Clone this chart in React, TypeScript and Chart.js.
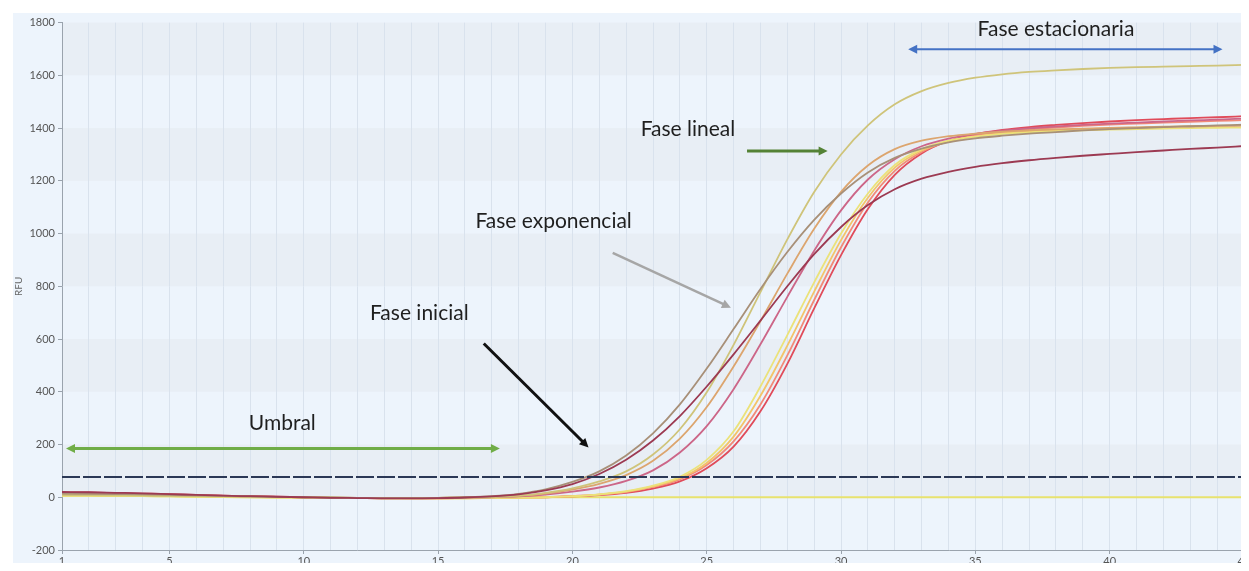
import React, { useEffect, useRef } from "react";
import { Chart, registerables } from "chart.js";
Chart.register(...registerables);

const cycles = [1,2,3,4,5,6,7,8,9,10,11,12,13,14,15,16,17,18,19,20,21,22,23,24,25,26,27,28,29,30,31,32,33,34,35,36,37,38,39,40,41,42,43,44,45];
const xTickLabels = [1, 5, 10, 15, 20, 25, 30, 35, 40, 45];
const yTicks = [-200, 0, 200, 400, 600, 800, 1000, 1200, 1400, 1600, 1800];

const maroon = [20,19,17,15,12,9,6,4,2,0, -2,-3,-4,-4,-3,-1,3,11,26,50, 88,142,215,308,420,542,670,800,922,1025, 1108,1168,1208,1234,1253,1267,1278,1287,1295,1302, 1309,1315,1321,1326,1332];
const tan = [14,13,12,11,9,7,5,3,1,0, -1,-2,-3,-3,-2,0,4,13,30,58, 98,158,242,352,488,638,790,930,1052,1152, 1232,1287,1322,1346,1361,1371,1379,1385,1391,1396, 1400,1404,1407,1410,1413];
const khaki = [8,8,7,6,5,4,3,2,1,0, -1,-2,-2,-2,-2,-1,1,6,17,34, 60,98,162,258,398,578,778,978,1158,1300, 1410,1490,1540,1571,1591,1604,1613,1619,1624,1628, 1631,1633,1635,1637,1640];
const orangeTan = [10,10,9,8,7,5,4,2,1,0, -1,-2,-3,-3,-2,-1,1,5,14,29, 51,84,138,222,342,496,668,848,1018,1158, 1258,1320,1352,1369,1379,1386,1391,1395,1398,1401, 1403,1405,1406,1408,1409];
const pink = [16,15,14,12,10,8,5,3,1,0, -2,-3,-3,-3,-3,-2,0,3,10,21, 37,62,102,170,270,410,580,760,935,1088, 1205,1282,1331,1360,1378,1390,1399,1406,1412,1417, 1421,1425,1429,1432,1436];
const lightYellow = [6,6,5,4,3,2,1,0,-1,-2, -3,-3,-4,-4,-4,-4,-3,-2,0,4, 11,23,44,78,142,250,420,615,815,1000, 1152,1260,1320,1352,1368,1378,1384,1388,1391,1394, 1396,1398,1400,1401,1402];
const gold = [7,7,6,5,4,3,2,1,0,-1, -2,-3,-4,-4,-4,-4,-3,-2,0,3, 10,21,41,72,130,230,385,575,780,975, 1136,1250,1315,1350,1368,1380,1387,1392,1396,1399, 1402,1404,1406,1408,1410];
const salmon = [15,14,13,11,9,7,5,3,1,0, -2,-3,-3,-4,-4,-3,-2,-1,1,5, 10,20,39,68,122,212,352,538,748,948, 1118,1238,1309,1350,1372,1386,1395,1402,1408,1413, 1417,1421,1424,1427,1430];
const red = [19,18,16,14,12,9,6,4,2,0, -2,-3,-4,-4,-4,-3,-2,-1,0,3, 8,17,33,60,110,192,326,506,716,918, 1093,1223,1304,1351,1377,1393,1404,1412,1419,1425, 1430,1434,1438,1441,1445];
const flatYellow = [5,5,4,4,3,2,1,0,-1,-1, -2,-2,-2,-2,-2,-2,-1,-1,0,0, 0,0,0,0,0,0,0,0,0,0, 0,0,0,0,0,0,0,0,0,0, 0,0,0,0,0];
const threshold = 77;

const seriesList = [
  { name: "A1", values: maroon, color: "#9c3a52" },
  { name: "A2", values: tan, color: "#a89078" },
  { name: "A3", values: khaki, color: "#cfc47a" },
  { name: "A4", values: orangeTan, color: "#dca56e" },
  { name: "A5", values: pink, color: "#cc6688" },
  { name: "A6", values: lightYellow, color: "#ebe27a" },
  { name: "A7", values: gold, color: "#f3c46a" },
  { name: "A8", values: salmon, color: "#f28a78" },
  { name: "A9", values: red, color: "#e04b5a" },
  { name: "NTC", values: flatYellow, color: "#e8e26e" },
];

// alternating darker horizontal bands (value ranges)
const darkBands = [[0, 200], [400, 600], [800, 1000], [1200, 1400], [1600, 1800]];

// annotations in data coordinates (cycle, RFU)
const textNotes = [
  { text: "Fase estacionaria", x: 38.0, y: 1774 },
  { text: "Fase lineal", x: 24.3, y: 1396 },
  { text: "Fase exponencial", x: 19.3, y: 1048 },
  { text: "Fase inicial", x: 14.3, y: 696 },
  { text: "Umbral", x: 9.2, y: 280 },
];
const arrowNotes = [
  { x1: 32.5, y1: 1699, x2: 44.2, y2: 1699, color: "#4472c4", w: 2, start: true, end: true },
  { x1: 26.5, y1: 1313, x2: 29.5, y2: 1313, color: "#548235", w: 3, start: false, end: true },
  { x1: 21.5, y1: 927, x2: 25.9, y2: 719, color: "#a6a6a6", w: 2.5, start: false, end: true },
  { x1: 16.7, y1: 583, x2: 20.6, y2: 189, color: "#111111", w: 3, start: false, end: true },
  { x1: 1.15, y1: 185, x2: 17.3, y2: 185, color: "#70ad47", w: 3, start: true, end: true },
];

function head(ctx: CanvasRenderingContext2D, x: number, y: number, ang: number, color: string) {
  const hl = 9, hw = 4.5;
  ctx.save();
  ctx.fillStyle = color;
  ctx.translate(x, y);
  ctx.rotate(ang);
  ctx.beginPath();
  ctx.moveTo(0, 0);
  ctx.lineTo(-hl, -hw);
  ctx.lineTo(-hl, hw);
  ctx.closePath();
  ctx.fill();
  ctx.restore();
}

const bandPlugin = {
  id: "bands",
  beforeDraw(chart: any) {
    const { ctx, chartArea, scales } = chart;
    const ys = scales.y;
    ctx.save();
    ctx.fillStyle = "#e8eef5";
    for (const [a, b] of darkBands) {
      const top = ys.getPixelForValue(b);
      const bot = ys.getPixelForValue(a);
      ctx.fillRect(chartArea.left, top, chartArea.right - chartArea.left, bot - top);
    }
    ctx.restore();
  },
};

const notePlugin = {
  id: "notes",
  afterDraw(chart: any) {
    const { ctx, scales } = chart;
    const xs = scales.x, ys = scales.y;
    ctx.save();
    for (const a of arrowNotes) {
      const x1 = xs.getPixelForValue(a.x1), y1 = ys.getPixelForValue(a.y1);
      const x2 = xs.getPixelForValue(a.x2), y2 = ys.getPixelForValue(a.y2);
      const ang = Math.atan2(y2 - y1, x2 - x1);
      const dx = Math.cos(ang) * 7, dy = Math.sin(ang) * 7;
      ctx.strokeStyle = a.color;
      ctx.lineWidth = a.w;
      ctx.beginPath();
      ctx.moveTo(a.start ? x1 + dx : x1, a.start ? y1 + dy : y1);
      ctx.lineTo(a.end ? x2 - dx : x2, a.end ? y2 - dy : y2);
      ctx.stroke();
      if (a.end) head(ctx, x2, y2, ang, a.color);
      if (a.start) head(ctx, x1, y1, ang + Math.PI, a.color);
    }
    ctx.fillStyle = "#1f1f1f";
    ctx.font = "21px Lato, 'Open Sans', sans-serif";
    ctx.textAlign = "center";
    ctx.textBaseline = "middle";
    for (const t of textNotes) {
      ctx.fillText(t.text, xs.getPixelForValue(t.x), ys.getPixelForValue(t.y));
    }
    ctx.restore();
  },
};

export default function App() {
  const ref = useRef<HTMLCanvasElement>(null);
  useEffect(() => {
    if (!ref.current) return;
    const datasets: any[] = seriesList.map((s) => ({
      label: s.name,
      data: cycles.map((c, i) => ({ x: c, y: s.values[i] })),
      borderColor: s.color,
      borderWidth: 1.8,
      pointRadius: 0,
      fill: false,
      tension: 0.4,
      cubicInterpolationMode: "monotone",
      order: 2,
    }));
    datasets.push({
      label: "Umbral",
      data: [{ x: cycles[0], y: threshold }, { x: cycles[cycles.length - 1], y: threshold }],
      borderColor: "#2b3856",
      borderWidth: 2,
      borderDash: [18, 3],
      pointRadius: 0,
      fill: false,
      order: 0,
    });
    const chart = new Chart(ref.current, {
      type: "line",
      data: { datasets },
      options: {
        animation: false,
        responsive: false,
        maintainAspectRatio: false,
        layout: { padding: { top: 8, right: 19, left: 0, bottom: 0 } },
        plugins: { legend: { display: false }, tooltip: { enabled: false } },
        scales: {
          x: {
            type: "linear",
            min: 1,
            max: 45,
            afterFit: (s: any) => { s.height = 21; },
            afterBuildTicks: (s: any) => { s.ticks = cycles.map((v) => ({ value: v })); },
            ticks: {
              autoSkip: false,
              maxRotation: 0,
              padding: 1,
              color: "#555",
              font: { family: "Lato, 'Open Sans', sans-serif", size: 11 },
              callback: (v: any) => (xTickLabels.includes(Number(v)) ? String(v) : ""),
            },
            grid: {
              color: "#d9e2ed",
              lineWidth: 1,
              tickLength: 4,
              tickColor: (c: any) => (xTickLabels.includes(c.tick?.value) ? "#9aa3ad" : "rgba(0,0,0,0)"),
            },
            border: { display: true, color: "#9aa3ad", width: 1 },
          },
          y: {
            min: -200,
            max: 1800,
            afterFit: (s: any) => { s.width = 49; },
            afterBuildTicks: (s: any) => { s.ticks = yTicks.map((v) => ({ value: v })); },
            ticks: {
              color: "#555",
              padding: 3,
              font: { family: "Lato, 'Open Sans', sans-serif", size: 11 },
              callback: (v: any) => String(v),
            },
            grid: { drawOnChartArea: false, tickLength: 4, color: "#9aa3ad" },
            border: { display: true, color: "#9aa3ad", width: 1 },
            title: {
              display: true,
              text: "RFU",
              color: "#666",
              padding: 0,
              font: { family: "Lato, 'Open Sans', sans-serif", size: 10 },
            },
          },
        },
      },
      plugins: [bandPlugin, notePlugin],
    });
    return () => chart.destroy();
  }, []);
  return (
    <div style={{ padding: "5px 0 0 5px", height: 558, marginBottom: -8 }}>
      <div style={{ width: 1236, height: 558, overflow: "hidden", background: "#edf4fc", position: "relative" }}>
        <canvas ref={ref} width={1250} height={558} style={{ width: 1250, height: 558, display: "block" }} />
      </div>
    </div>
  );
}
